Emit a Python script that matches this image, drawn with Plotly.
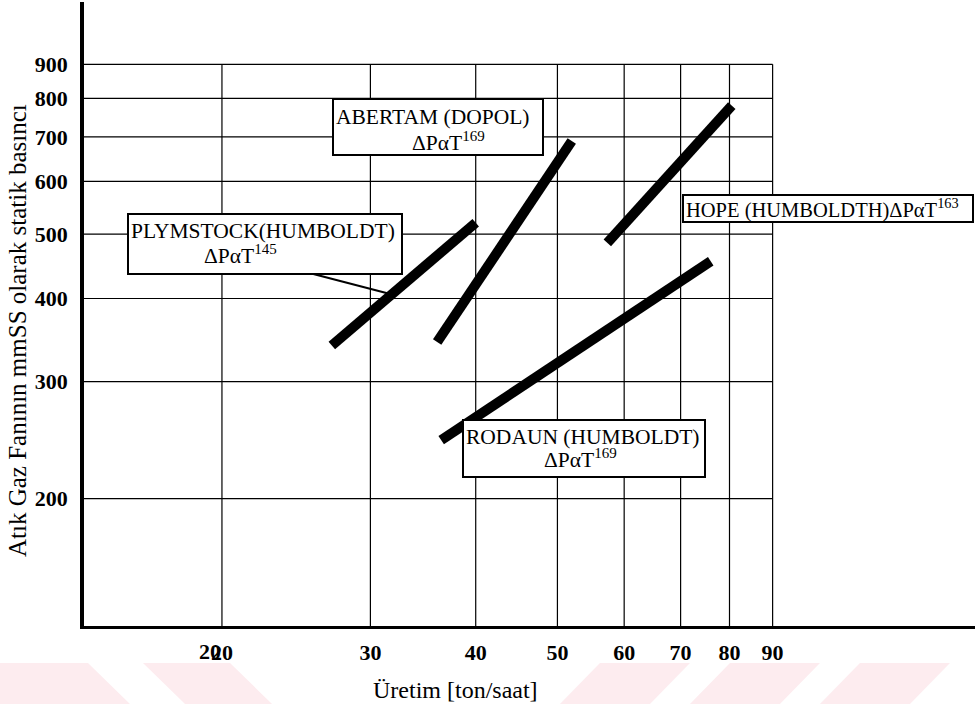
import math
import plotly.graph_objects as go

# ---------------- data ----------------
x_ticks = [20, 30, 40, 50, 60, 70, 80, 90]
y_ticks = [200, 300, 400, 500, 600, 700, 800, 900]

plymstock_x = [27.0, 40.0]
plymstock_y = [340, 520]
abertam_x = [36.0, 52.0]
abertam_y = [344, 690]
hope_x = [57.3, 80.5]
hope_y = [485, 780]
rodaun_x = [36.4, 76.0]
rodaun_y = [245, 455]
leader_x = [25.2, 31.5]
leader_y = [438, 407]

x_title = "Üretim [ton/saat]"
y_title = "Atık Gaz Fanının mmSS olarak statik basıncı"

# ---------------- layout helpers ----------------
W, H = 975, 704
ML, MR, MT, MB = 84, 0, 2, 78
PW, PH = W - ML - MR, H - MT - MB
X_RANGE = [1.1374, 2.1943]
Y_RANGE = [2.1096, 3.0479]
FONT = "Liberation Serif"


def px(x):
    return (x - ML) / PW


def py(y):
    return (H - MB - y) / PH


fig = go.Figure()

# grid (partial, only up to 90 / 900 as in the original drawing)
for v in y_ticks:
    fig.add_trace(go.Scatter(x=[10 ** X_RANGE[0], max(x_ticks)], y=[v, v], mode="lines",
                             line=dict(color="black", width=1.2), hoverinfo="skip", showlegend=False))
for v in x_ticks:
    fig.add_trace(go.Scatter(x=[v, v], y=[10 ** Y_RANGE[0], max(y_ticks)], mode="lines",
                             line=dict(color="black", width=1.2), hoverinfo="skip", showlegend=False))

# leader line
fig.add_trace(go.Scatter(x=leader_x, y=leader_y, mode="lines",
                         line=dict(color="black", width=2), hoverinfo="skip", showlegend=False))

# thick characteristic lines
for name, xs, ys in [("PLYMSTOCK", plymstock_x, plymstock_y),
                     ("ABERTAM", abertam_x, abertam_y),
                     ("HOPE", hope_x, hope_y),
                     ("RODAUN", rodaun_x, rodaun_y)]:
    fig.add_trace(go.Scatter(x=xs, y=ys, mode="lines", name=name,
                             line=dict(color="black", width=10), showlegend=False))

shapes = []
# faint watermark stripes at the bottom
pink = [
    [(0, 663), (88, 663), (130, 704), (0, 704)],
    [(143, 663), (230, 663), (272, 704), (185, 704)],
    [(560, 704), (600, 663), (690, 663), (650, 704)],
    [(690, 704), (730, 663), (820, 663), (780, 704)],
    [(820, 704), (860, 663), (950, 663), (910, 704)],
]
for poly in pink:
    path = "M " + " L ".join(f"{px(a):.4f},{py(b):.4f}" for a, b in poly) + " Z"
    shapes.append(dict(type="path", xref="paper", yref="paper", path=path,
                       fillcolor="#fdecef", line=dict(width=0), layer="below"))

# label boxes (pixel rectangles)
boxes = [(128, 214, 402, 274), (333, 99, 543, 155), (683, 195, 973, 222), (463, 420, 705, 477)]
for x0, y0, x1, y1 in boxes:
    shapes.append(dict(type="rect", xref="paper", yref="paper",
                       x0=px(x0), x1=px(x1), y0=py(y1), y1=py(y0),
                       fillcolor="white", line=dict(color="black", width=2), layer="above"))

ann = []
BOXFONT = dict(family=FONT, size=21.5, color="black")


def txt(text, x, y, xanchor="left", size=None):
    f = dict(BOXFONT)
    if size:
        f["size"] = size
    ann.append(dict(text=text, x=px(x), y=py(y), xref="paper", yref="paper",
                    xanchor=xanchor, yanchor="middle", showarrow=False, font=f))


txt("PLYMSTOCK(HUMBOLDT)", 129, 231)
txt("ΔPαT<sup>145</sup>", 240, 254, "center")
txt("ABERTAM (DOPOL)", 334, 117)
txt("ΔPαT<sup>169</sup>", 448, 141, "center")
txt("HOPE (HUMBOLDTH)ΔPαT<sup>163</sup>", 684, 208, size=20.5)
txt("RODAUN (HUMBOLDT)", 464, 437)
txt("ΔPαT<sup>169</sup>", 580, 458, "center")

# duplicated "20" label of the original scan
ann.append(dict(text="<b>20</b>", x=math.log10(20), y=py(651), xref="x", yref="paper",
                xanchor="center", yanchor="middle", xshift=-12, showarrow=False,
                font=dict(family=FONT, size=22, color="black")))

# axis titles
ann.append(dict(text=x_title, x=px(455), y=py(690), xref="paper", yref="paper",
                xanchor="center", yanchor="middle", showarrow=False,
                font=dict(family=FONT, size=24, color="black")))
ann.append(dict(text=y_title, x=px(17), y=py(331), xref="paper", yref="paper",
                xanchor="center", yanchor="middle", textangle=-90, showarrow=False,
                font=dict(family=FONT, size=25, color="black")))

fig.update_layout(
    width=W, height=H,
    margin=dict(l=ML, r=MR, t=MT, b=MB, pad=0),
    paper_bgcolor="white", plot_bgcolor="white",
    shapes=shapes, annotations=ann, showlegend=False,
    font=dict(family=FONT, color="black"),
)
fig.update_xaxes(type="log", range=X_RANGE, tickvals=x_ticks,
                 ticktext=[f"<b>{v}</b>" for v in x_ticks],
                 tickfont=dict(family=FONT, size=22, color="black"),
                 ticks="", ticklabelstandoff=5,
                 showgrid=False, zeroline=False, showline=True, linecolor="black", linewidth=3,
                 automargin=False)
fig.update_yaxes(type="log", range=Y_RANGE, tickvals=y_ticks,
                 ticktext=[f"<b>{v}</b>" for v in y_ticks],
                 tickfont=dict(family=FONT, size=22, color="black"),
                 ticks="", ticklabelstandoff=8,
                 showgrid=False, zeroline=False, showline=True, linecolor="black", linewidth=3.5,
                 automargin=False)

fig.write_html("out.html", config={"displayModeBar": False},
               post_script="document.body.style.margin='0px';")
